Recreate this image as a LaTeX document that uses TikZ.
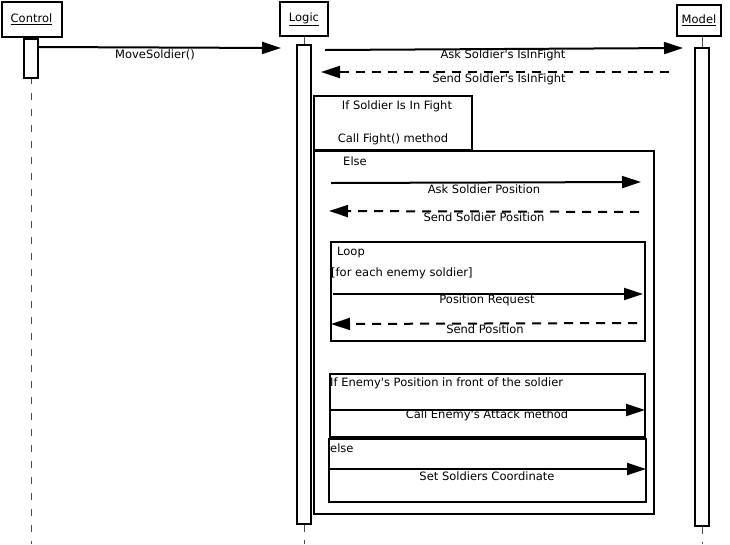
\documentclass[tikz,border=0pt]{standalone}
\usepackage{fontspec}
\setmainfont{DejaVu Sans}
\usetikzlibrary{arrows.meta}
\tikzset{every node/.style={inner sep=0pt,font=\fontsize{11.5}{13}\selectfont}}
\tikzset{obj/.style={rectangle,draw,line width=2pt}}
\tikzset{act/.style={rectangle,draw,fill=white,line width=2pt,minimum width=14pt,anchor=north}}
\tikzset{frame/.style={rectangle,draw,line width=2pt,anchor=north west}}
\tikzset{msg/.style={line width=2pt,-{Triangle[length=19pt,width=12pt]}}}
\tikzset{reply/.style={msg,dash pattern=on 9pt off 7pt}}
\tikzset{life/.style={draw=black!70,line width=1pt}}
\newcommand{\apos}{\textquotesingle}

\begin{document}
\begin{tikzpicture}[x=1pt,y=-1pt]
      \useasboundingbox (0,0) rectangle (730,544);
      % objects
      \node[obj,minimum width=60pt,minimum height=35pt] (control) at (31.5,19.5) {\underline{Control}};
      \node[obj,minimum width=48pt,minimum height=34pt] (logic) at (304,19) {\underline{Logic}};
      \node[obj,minimum width=44pt,minimum height=31pt] (model) at (699,20.5) {\underline{Model}};
      \coordinate (cend) at (31,544);
      \coordinate (lend) at (304,544);
      \coordinate (mend) at (702,544);
      \draw[life,dash pattern=on 7pt off 9pt] (31,77) -- (cend);
      \draw[life] (304,37) -- (304,44);
      \draw[life,dash pattern=on 8pt off 8pt] (304,524) -- (lend);
      \draw[life] (702,37) -- (702,47);
      \draw[life,dash pattern=on 8pt off 8pt] (702,526) -- (mend);
      % activations
      \node[act,minimum height=39pt] (cact) at (31,38) {};
      \node[act,minimum height=479pt] (lact) at (304,44) {};
      \node[act,minimum height=478pt] (mact) at (702,47) {};
      % frames
      \node[frame,minimum width=158pt,minimum height=54pt] (fight) at (313,95) {};
      \node[frame,minimum width=340pt,minimum height=363pt] (else) at (313,150) {};
      \node[frame,minimum width=314pt,minimum height=99pt] (loop) at (330,241) {};
      \node[frame,minimum width=315pt,minimum height=63pt] (front) at (329,373) {};
      \node[frame,minimum width=317pt,minimum height=63pt] (else2) at (328,438) {};
      \node (T1) at (397,106) {If Soldier Is In Fight};
      \node (T2) at (393,139) {Call Fight() method};
      \node (T3) at (355,161) {Else};
      \node (T4) at (351,252) {Loop};
      \node[anchor=west] (T5) at (331,273) {[for each enemy soldier]};
      \node[anchor=west] (T6) at (330,383) {If Enemy\apos s Position in front of the soldier};
      \node[anchor=west] (T7) at (330,448) {else};
      % messages
      \coordinate (a1) at (38,47);   \coordinate (b1) at (281,48);
      \coordinate (a2) at (325,50);  \coordinate (b2) at (683,48);
      \coordinate (a3) at (669,72);  \coordinate (b3) at (321,72);
      \coordinate (a4) at (331,183); \coordinate (b4) at (641,182);
      \coordinate (a5) at (639,212); \coordinate (b5) at (329,211);
      \coordinate (a6) at (333,294); \coordinate (b6) at (643,294);
      \coordinate (a7) at (637,323); \coordinate (b7) at (331,324);
      \coordinate (a8) at (329,410); \coordinate (b8) at (645,410);
      \coordinate (a9) at (329,469); \coordinate (b9) at (646,469);
      \foreach \a/\b in {a1/b1,a2/b2,a4/b4,a6/b6,a8/b8,a9/b9}
        \draw[msg] (\a) -- (\b);
      \foreach \a/\b in {a3/b3,a5/b5,a7/b7}
        \draw[reply] (\a) -- (\b);
      \node (L1) at (155,55) {MoveSoldier()};
      \node (L2) at (503,55) {Ask Soldier\apos s IsInFight};
      \node (L3) at (499,79) {Send Soldier\apos s IsInFight};
      \node (L4) at (484,189) {Ask Soldier Position};
      \node (L5) at (484,217) {Send Soldier Position};
      \node (L6) at (487,300) {Position Request};
      \node (L7) at (485,329) {Send Position};
      \node (L8) at (487,415) {Call Enemy\apos s Attack method};
      \node (L9) at (487,476) {Set Soldiers Coordinate};
\end{tikzpicture}
\end{document}
